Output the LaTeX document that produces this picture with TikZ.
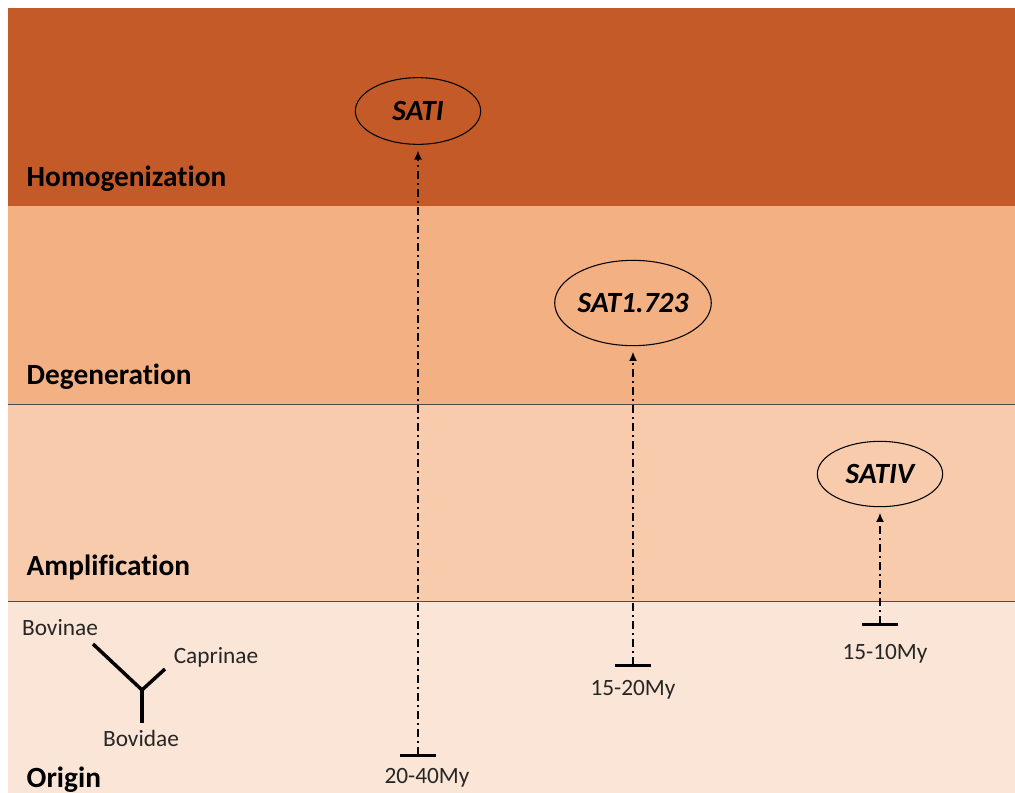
\documentclass[tikz,border=0pt]{standalone}
\usepackage{fontspec}
\setmainfont[Ligatures=NoCommon]{Carlito}
\usetikzlibrary{arrows.meta,shapes.geometric}

\definecolor{homog}{HTML}{C45A28}
\definecolor{degen}{HTML}{F3B082}
\definecolor{amplif}{HTML}{F8CBAD}
\definecolor{orig}{HTML}{FBE5D6}

\tikzset{
    stage/.style={anchor=base west,font=\fontsize{22}{26}\selectfont\bfseries},
    small/.style={font=\fontsize{17.5}{21}\selectfont,text=black!85},
    sat/.style={draw,ellipse,inner sep=0pt,line width=0.8pt,
        font=\fontsize{22}{26}\selectfont\bfseries\itshape},
    evo/.style={line width=2pt,dash pattern=on 6pt off 3pt on 1.5pt off 3pt,
        {Bar[width=27pt,line width=2.4pt]}-{Latex[length=7pt,width=6pt]}},
    branch/.style={line width=2.6pt},
}

\begin{document}
\begin{tikzpicture}[x=0.75pt,y=-0.75pt]
    \useasboundingbox (0,0) rectangle (1015,793);
    \foreach \top/\bot/\col in {8/206/homog,206/404/degen,404/601/amplif,601/793/orig}{
        \fill[\col] (8,\top) rectangle (1015,\bot);
    }
    \draw[black!70,line width=0.6pt]
        (8,404) -- (1015,404)
        (8,601) -- (1015,601);
    \path[nodes={stage}]
        (22,186) node(homo){Homogenization}
        (22,384) node(dege){Degeneration}
        (22,575) node(ampl){Amplification}
        (22,787) node(orgn){Origin};
    % satellite families
    \node[sat,minimum width=94pt,minimum height=50pt] (sati) at (418,111) {SATI};
    \node[sat,minimum width=112pt,minimum height=64pt] (sat1723) at (633,303) {SAT1.723};
    \node[sat,minimum width=94pt,minimum height=49pt] (sativ) at (880,474) {SATIV};
    % time of origin
    \foreach \nm/\x/\y/\lx/\ly/\lab in {%
        sati/418/757/427/778/{20-40My},
        sat1723/633/667/633/690/{15-20My},
        sativ/880/626/885/654/{15-10My}%
    }{
        \coordinate (t-\nm) at (\x,\y);
        \node[small] (l-\nm) at (\lx,\ly) {\lab};
        \draw[evo,shorten >=4pt] (t-\nm) -- (t-\nm |- \nm.south);
    }
    % Bovidae tree
    \path[nodes={small}]
        (60,628) node(bovinae){Bovinae}
        (216,657) node(caprinae){Caprinae}
        (141,738) node(bovidae){Bovidae};
    \coordinate (fork) at (142,690);
    \coordinate (b-end) at (93,644);
    \coordinate (c-end) at (165,669);
    \coordinate (root) at (142,723);
    \draw[branch] (b-end) -- (fork) -- (c-end);
    \draw[branch] (fork) -- (root);
\end{tikzpicture}
\end{document}
